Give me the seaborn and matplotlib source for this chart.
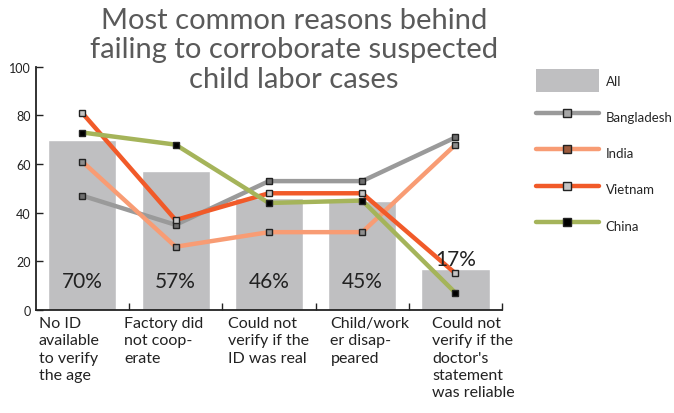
import pandas as pd
import matplotlib.pyplot as plt
import seaborn as sns
from matplotlib.patches import Patch
from matplotlib.lines import Line2D

# Chart data
reasons = [
    "No ID\navailable\nto verify\nthe age",
    "Factory did\nnot coop-\nerate",
    "Could not\nverify if the\nID was real",
    "Child/work\ner disap-\npeared",
    "Could not\nverify if the\ndoctor's\nstatement\nwas reliable",
]
all_share = [70, 57, 46, 45, 17]
bangladesh = [47, 35, 53, 53, 71]
india = [61, 26, 32, 32, 68]
vietnam = [81, 37, 48, 48, 15]
china = [73, 68, 44, 45, 7]

countries = ["Bangladesh", "India", "Vietnam", "China"]
series = [bangladesh, india, vietnam, china]
line_colors = ["#9a9a9a", "#f89c74", "#f15a29", "#a5b45a"]
marker_fill = ["#6e6e6e", "#8e8e8e", "#c4c4c4", "#000000"]
legend_fill = ["#a6a6a6", "#9c5a3c", "#c4c4c4", "#000000"]

sns.set_style("white")
plt.rcParams['font.family'] = ['Lato', 'DejaVu Sans']

keys = [f"r{i}" for i in range(len(reasons))]
bars = pd.DataFrame({"reason": keys, "value": all_share})

fig = plt.figure(figsize=(6.74, 4.14), dpi=100)
ax = fig.add_axes([0.053, 0.249, 0.692, 0.587])

sns.barplot(data=bars, x="reason", y="value", color="#bfbfc1", width=0.73,
            saturation=1, ax=ax, zorder=1)

for name, vals, lc, mf in zip(countries, series, line_colors, marker_fill):
    df = pd.DataFrame({"reason": keys, "value": vals})
    sns.pointplot(data=df, x="reason", y="value", color=lc, marker="s",
                  markersize=5, markerfacecolor=mf, markeredgecolor="#222222",
                  markeredgewidth=1, linewidth=3.2, ax=ax, zorder=3)

# percentage labels on the bars
for i, v in enumerate(all_share):
    y = v + 4 if v < 25 else 12
    ax.text(i, y, f"{v}%", ha="center", va="center", fontsize=15,
            color="#222222", zorder=4)

ax.set_ylim(0, 100)
ax.set_xlim(-0.5, 4.5)
ax.set_yticks(range(0, 101, 20))
ax.set_xticks([])
ax.set_xticks([0.5, 1.5, 2.5, 3.5, 4.5], minor=True)
ax.tick_params(axis="x", which="minor", direction="in", length=5, width=1, color="#222222", bottom=True)
ax.tick_params(axis="y", direction="in", length=5, width=1, color="#222222",
               labelsize=9, labelcolor="#222222", left=True)
ax.set_xlabel("")
ax.set_ylabel("")
sns.despine(ax=ax)
for s in ["left", "bottom"]:
    ax.spines[s].set_color("#222222")
    ax.spines[s].set_linewidth(1.3)

# category labels, left aligned under each slot
label_dx = [-0.47, -0.55, -0.44, -0.34, -0.25]
for i, (lab, dx) in enumerate(zip(reasons, label_dx)):
    ax.text(i + dx, -2.5, lab, ha="left", va="top", fontsize=11.5,
            linespacing=1.3, color="#222222")

fig.text(0.436, 0.98, "Most common reasons behind\nfailing to corroborate suspected\nchild labor cases",
         ha="center", va="top", fontsize=21, color="#5a5a5a", linespacing=1.15)

handles = [Patch(facecolor="#bfbfc1", edgecolor="none", label="All")]
for name, lc, lf in zip(countries, line_colors, legend_fill):
    handles.append(Line2D([0], [0], color=lc, linewidth=3.2, marker="s",
                          markersize=5.5, markerfacecolor=lf,
                          markeredgecolor="#222222", label=name))
fig.legend(handles=handles, loc="upper left", bbox_to_anchor=(0.795, 0.83),
           frameon=False, fontsize=9.5, handlelength=4.8, handleheight=2.3,
           labelspacing=1.0, handletextpad=0.5, borderpad=0, borderaxespad=0)

plt.savefig("out.png", dpi=100)
